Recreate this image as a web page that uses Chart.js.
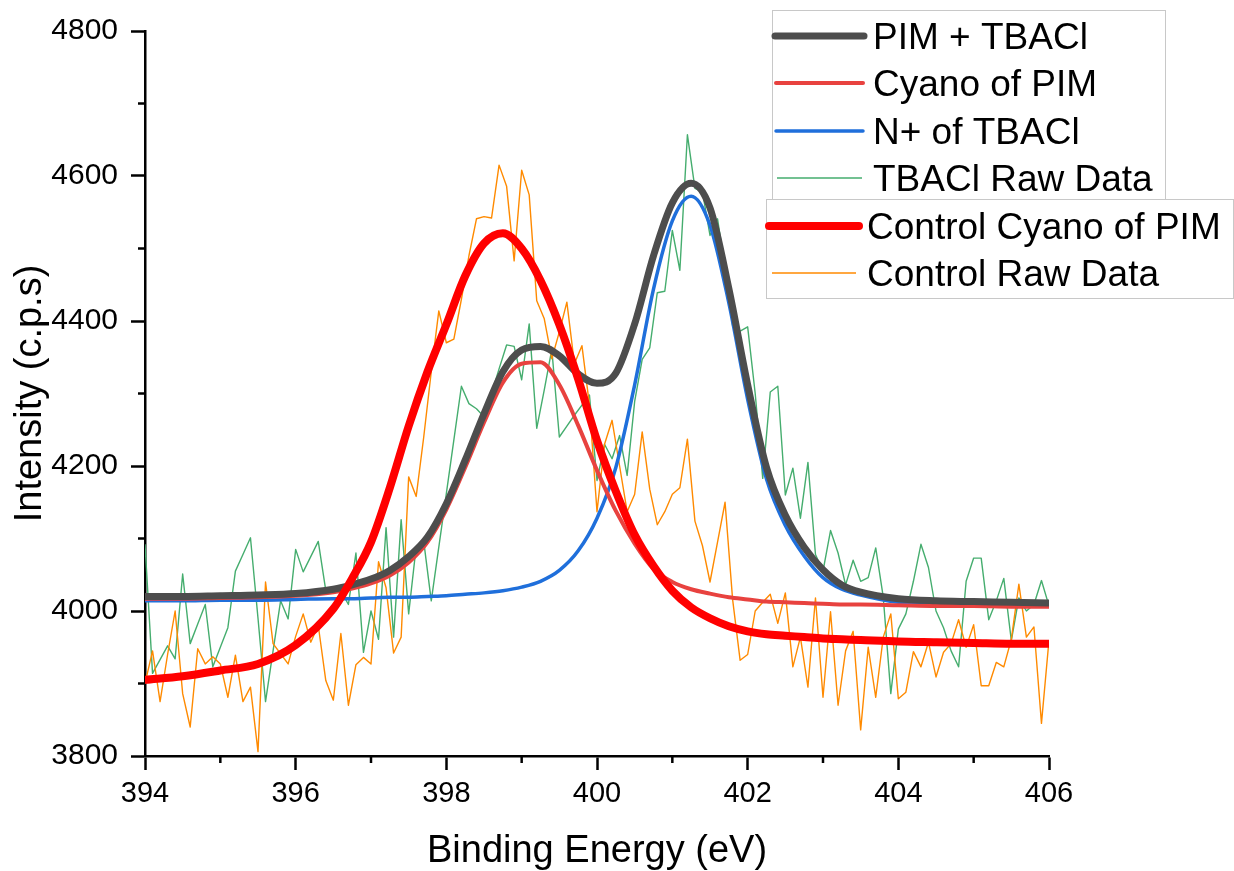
<!DOCTYPE html>
<html>
<head>
<meta charset="utf-8">
<title>XPS N 1s</title>
<script src="https://cdn.jsdelivr.net/npm/chart.js@4.4.1/dist/chart.umd.min.js"></script>
<style>
    html, body { margin: 0; padding: 0; background: #fff; }
    #wrap { width: 1234px; height: 871px; }
</style>
</head>
<body>
<div id="wrap"><canvas id="xps" width="1234" height="871"></canvas></div>
<script>
// Raw spectra, 0.1 eV steps from 394.0 to 406.0 eV
const tbaclRaw = [
    4092, 3914, 3933, 3952, 3934, 4051, 3955, 3982, 4009, 3923,
    3950, 3977, 4055, 4078, 4101, 3990, 3875, 3945, 4014, 3989,
    4085, 4054, 4075, 4096, 4028, 4028, 4028, 4009, 4080, 3943,
    4000, 3961, 4115, 3964, 4126, 3996, 4089, 4096, 4014, 4088,
    4162, 4236, 4310, 4286, 4279, 4268, 4300, 4334, 4367, 4365,
    4319, 4396, 4252, 4305, 4361, 4240, 4255, 4270, 4284, 4298,
    4180, 4230, 4210, 4242, 4187, 4289, 4347, 4363, 4439, 4441,
    4525, 4470, 4657, 4583, 4578, 4518, 4541, 4473, 4394, 4386,
    4392, 4300, 4183, 4302, 4310, 4160, 4197, 4128, 4205, 4078,
    4055, 4111, 4080, 4036, 4070, 4041, 4046, 4087, 4019, 3886,
    3975, 3996, 4041, 4092, 4060, 4000, 3977, 3945, 3923, 4041,
    4073, 4073, 3988, 4014, 4045, 3959, 4018, 4000, 4009, 4042,
    4007
];
const controlRaw = [
    3900, 3945, 3875, 3940, 4000, 3886, 3840, 3948, 3927, 3937,
    3927, 3881, 3939, 3875, 3895, 3806, 4040, 3955, 3941, 3927,
    3965, 3996, 3957, 3980, 3904, 3877, 3969, 3870, 3926, 3936,
    3927, 4068, 4032, 3942, 3964, 4185, 4158, 4240, 4330, 4414,
    4370, 4375, 4430, 4490, 4541, 4544, 4542, 4615, 4586, 4483,
    4608, 4574, 4428, 4403, 4348, 4385, 4426, 4341, 4366, 4284,
    4137, 4230, 4263, 4200, 4137, 4161, 4247, 4168, 4119, 4137,
    4161, 4170, 4237, 4124, 4090, 4040, 4095, 4150, 4016, 3932,
    3940, 4000, 4012, 4023, 3983, 4025, 3923, 3964, 3895, 4018,
    3881, 3999, 3870, 3945, 3972, 3836, 3950, 3881, 3964, 3996,
    3879, 3888, 3944, 3923, 3957, 3909, 3943, 3955, 3988, 3950,
    3981, 3897, 3897, 3929, 3923, 3961, 4037, 3964, 3978, 3845,
    3960
];
const rawEnergy = tbaclRaw.map((_, i) => +(394 + i * 0.1).toFixed(1));

// Fitted envelopes, sampled where they were read
const fitEnergy = [394, 394.5, 395, 395.5, 396, 396.5, 396.75, 397, 397.25, 397.5,
    397.75, 398, 398.25, 398.5, 398.75, 399, 399.25, 399.5, 399.75, 400,
    400.25, 400.5, 400.75, 401, 401.25, 401.5, 401.75, 402, 402.25, 402.5,
    402.75, 403, 403.25, 403.5, 404, 404.5, 405, 405.5, 406];
const pimTbacl = [4020, 4020, 4021, 4022, 4024, 4030, 4036, 4044, 4056, 4075,
    4102, 4148, 4208, 4272, 4330, 4360, 4365, 4352, 4327, 4314,
    4328, 4396, 4490, 4563, 4590, 4556, 4445, 4312, 4198, 4132,
    4088, 4057, 4036, 4026, 4017, 4014, 4013, 4012, 4011];
const cyanoPim = [4017, 4017, 4018, 4019, 4021, 4026, 4031, 4038, 4049, 4067,
    4095, 4140, 4198, 4260, 4315, 4341, 4343, 4312, 4256, 4194,
    4138, 4093, 4058, 4040, 4030, 4024, 4019, 4016, 4013, 4012,
    4011, 4010, 4009, 4009, 4008, 4007, 4007, 4006, 4006];
const nPlusTbacl = [4014, 4014, 4015, 4015, 4016, 4017, 4017, 4018, 4019, 4019,
    4020, 4021, 4023, 4025, 4028, 4033, 4041, 4056, 4083, 4128,
    4198, 4312, 4444, 4538, 4572, 4532, 4425, 4292, 4182, 4118,
    4076, 4046, 4030, 4022, 4012, 4010, 4009, 4008, 4008];
const controlCyano = [3905, 3910, 3918, 3927, 3953, 4003, 4045, 4095, 4170, 4255,
    4330, 4395, 4462, 4507, 4521, 4500, 4456, 4395, 4320, 4235,
    4165, 4105, 4062, 4028, 4005, 3990, 3979, 3972, 3968, 3966,
    3964, 3962, 3961, 3960, 3958, 3957, 3956, 3955, 3955];

const xTicks = [394, 396, 398, 400, 402, 404, 406];
const yTicks = [3800, 4000, 4200, 4400, 4600, 4800];

const FONT = '"Liberation Sans", Arial, Helvetica, sans-serif';

function fitSet(label, values, color, width, order) {
    return {
        label: label,
        data: fitEnergy.map((x, i) => ({ x: x, y: values[i] })),
        borderColor: color,
        borderWidth: width,
        pointRadius: 0,
        cubicInterpolationMode: 'monotone',
        borderCapStyle: 'round',
        fill: false,
        order: order
    };
}

function rawSet(label, values, color, order) {
    return {
        label: label,
        data: values.map((y, i) => ({ x: rawEnergy[i], y: y })),
        borderColor: color,
        borderWidth: 1.4,
        pointRadius: 0,
        tension: 0,
        borderJoinStyle: 'round',
        fill: false,
        order: order
    };
}

// minor ticks, axis titles and the two-box legend
const decorations = {
    id: 'decorations',
    afterDraw(chart) {
        const ctx = chart.ctx;
        const xs = chart.scales.x;
        const ys = chart.scales.y;
        const area = chart.chartArea;

        ctx.save();
        ctx.strokeStyle = '#000';
        ctx.lineWidth = 2.5;
        for (let v = 395; v < 406; v += 2) {
            const px = xs.getPixelForValue(v);
            ctx.beginPath();
            ctx.moveTo(px, area.bottom);
            ctx.lineTo(px, area.bottom + 7);
            ctx.stroke();
        }
        for (let v = 3900; v < 4800; v += 200) {
            const py = ys.getPixelForValue(v);
            ctx.beginPath();
            ctx.moveTo(area.left, py);
            ctx.lineTo(area.left - 7, py);
            ctx.stroke();
        }

        // axis titles
        ctx.fillStyle = '#000';
        ctx.font = '38px ' + FONT;
        ctx.textAlign = 'center';
        ctx.textBaseline = 'alphabetic';
        ctx.fillText('Binding Energy (eV)', (area.left + area.right) / 2, 862);
        ctx.translate(41, (area.top + area.bottom) / 2);
        ctx.rotate(-Math.PI / 2);
        ctx.fillText('Intensity (c.p.s)', 0, 0);
        ctx.restore();

        // legend
        ctx.save();
        ctx.fillStyle = '#fff';
        ctx.strokeStyle = '#c8c8c8';
        ctx.lineWidth = 1;
        ctx.fillRect(772, 10, 393, 190);
        ctx.strokeRect(772.5, 10.5, 393, 190);
        ctx.fillRect(766, 199, 467, 99);
        ctx.strokeRect(766.5, 199.5, 467, 99);

        const rows = [
            { y: 36, x0: 775, x1: 864, tx: 873 },
            { y: 83, x0: 776, x1: 863, tx: 873 },
            { y: 131, x0: 776, x1: 863, tx: 873 },
            { y: 178, x0: 777, x1: 862, tx: 873 },
            { y: 226, x0: 769, x1: 859, tx: 867 },
            { y: 273, x0: 772, x1: 856, tx: 867 }
        ];
        ctx.font = '37px ' + FONT;
        ctx.textAlign = 'left';
        ctx.textBaseline = 'alphabetic';
        chart.data.datasets.forEach((ds, i) => {
            const r = rows[i];
            ctx.strokeStyle = ds.borderColor;
            ctx.lineWidth = ds.borderWidth;
            ctx.lineCap = ds.borderWidth > 2 ? 'round' : 'butt';
            ctx.beginPath();
            ctx.moveTo(r.x0, r.y);
            ctx.lineTo(r.x1, r.y);
            ctx.stroke();
            ctx.fillStyle = '#000';
            ctx.fillText(ds.label, r.tx, r.y + 13);
        });
        ctx.restore();
    }
};

const whiteBackground = {
    id: 'whiteBackground',
    beforeDraw(chart) {
        const ctx = chart.ctx;
        ctx.save();
        ctx.fillStyle = '#fff';
        ctx.fillRect(0, 0, chart.width, chart.height);
        ctx.restore();
    }
};

new Chart(document.getElementById('xps').getContext('2d'), {
    type: 'line',
    data: {
        datasets: [
            fitSet('PIM + TBACl', pimTbacl, '#4d4d4d', 7, 1),
            fitSet('Cyano of PIM', cyanoPim, '#e8423f', 4, 2),
            fitSet('N+ of TBACl', nPlusTbacl, '#1f6fdb', 3.5, 3),
            rawSet('TBACl Raw Data', tbaclRaw, '#45ad6e', 5),
            fitSet('Control Cyano of PIM', controlCyano, '#ff0000', 8, 0),
            rawSet('Control Raw Data', controlRaw, '#ff8a00', 4)
        ]
    },
    options: {
        responsive: false,
        devicePixelRatio: 1,
        animation: false,
        events: [],
        layout: { padding: { top: 27, right: 185, bottom: 0, left: 0 } },
        plugins: {
            legend: { display: false },
            tooltip: { enabled: false }
        },
        scales: {
            x: {
                type: 'linear',
                min: 394,
                max: 406,
                afterFit: (s) => { s.height = 115; },
                afterBuildTicks: (s) => { s.ticks = xTicks.map(v => ({ value: v })); },
                ticks: {
                    color: '#000',
                    font: { family: FONT, size: 29 },
                    padding: 7,
                    maxRotation: 0,
                    autoSkip: false,
                    callback: (v) => String(v)
                },
                grid: { drawOnChartArea: false, drawTicks: true, tickLength: 14, tickWidth: 2.5, tickColor: '#000' },
                border: { display: true, color: '#000', width: 2.5 }
            },
            y: {
                min: 3800,
                max: 4800,
                afterFit: (s) => { s.width = 145; },
                afterBuildTicks: (s) => { s.ticks = yTicks.map(v => ({ value: v })); },
                ticks: {
                    color: '#000',
                    font: { family: FONT, size: 30 },
                    padding: 13,
                    autoSkip: false,
                    callback: (v) => String(v)
                },
                grid: { drawOnChartArea: false, drawTicks: true, tickLength: 14, tickWidth: 2.5, tickColor: '#000' },
                border: { display: true, color: '#000', width: 2.5 }
            }
        }
    },
    plugins: [whiteBackground, decorations]
});
</script>
</body>
</html>
